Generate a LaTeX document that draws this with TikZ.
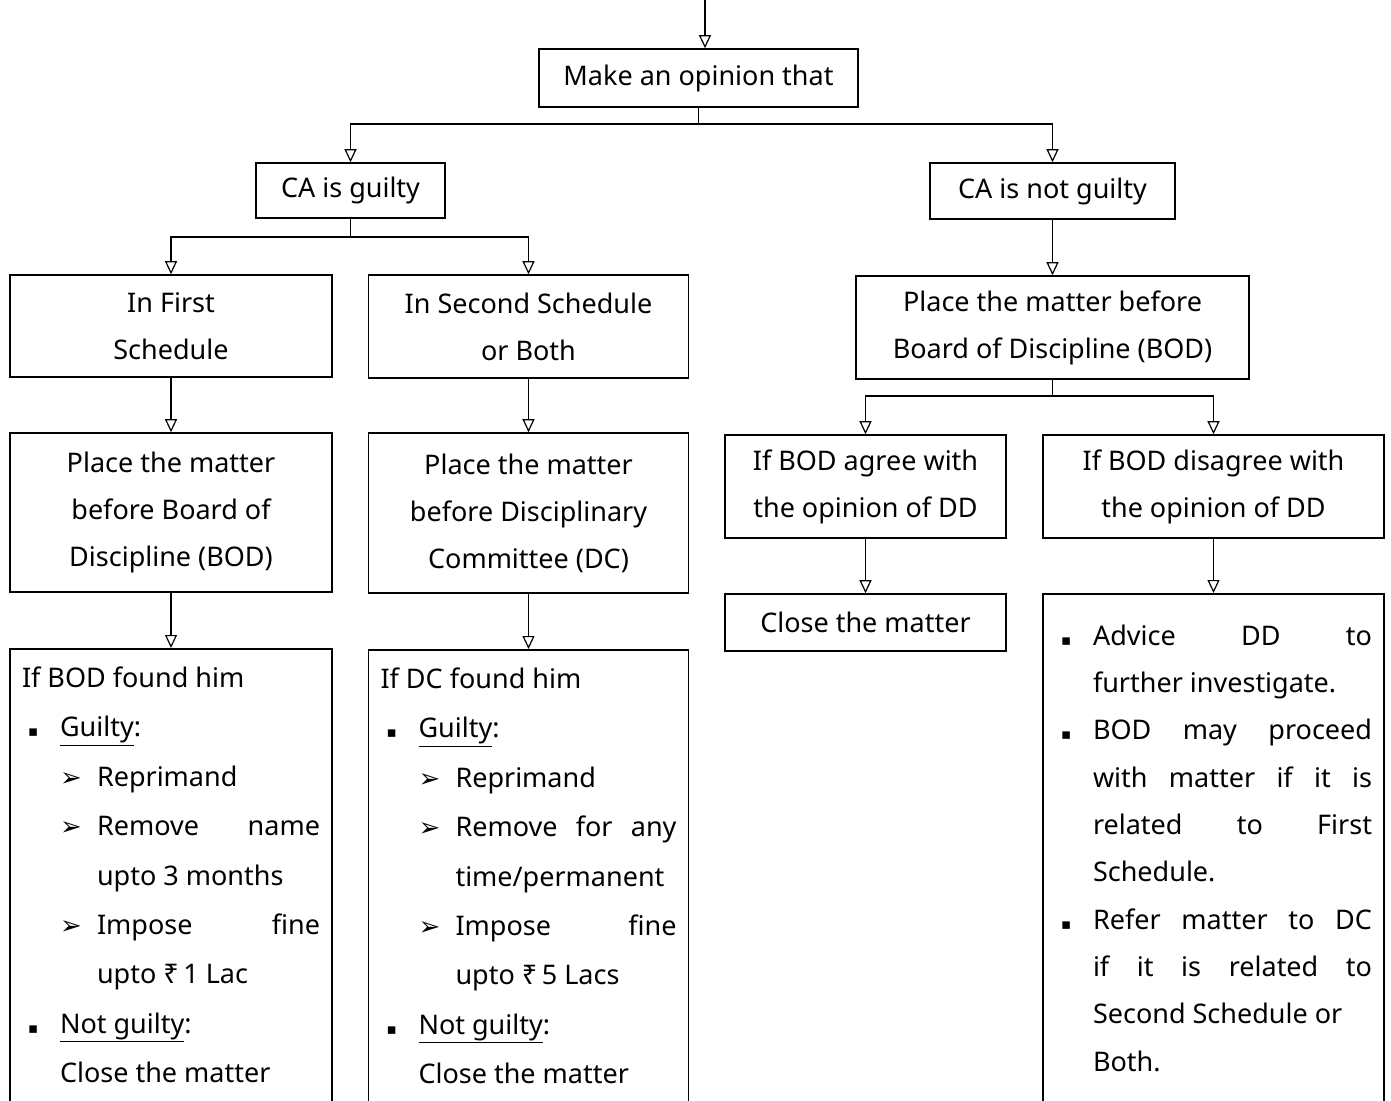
\documentclass[tikz,border=0pt]{standalone}
\usepackage{fontspec}
\setmainfont{Noto Sans}
\newfontfamily\symfont{DejaVu Sans}
\usetikzlibrary{arrows.meta}

% list bullets
\newcommand{\sqbul}{\makebox[38pt][l]{\hspace{6pt}{\symfont\fontsize{15}{15}\selectfont ▪}}}
\newcommand{\arbul}{\hspace*{38pt}\makebox[37pt][l]{{\symfont\fontsize{26}{26}\selectfont ➢}}}
\newcommand{\subind}{\hspace*{75pt}}
\newcommand{\ind}{\hspace*{38pt}}

\begin{document}
\begin{tikzpicture}[x=1pt,y=-1pt]

  % Definitions
  \tikzstyle{box} = [rectangle, draw=black, line width=1.6pt, align=center, inner sep=0pt, font=\fontsize{27}{47}\selectfont]
  \tikzstyle{listbox} = [rectangle, draw=black, line width=1.6pt, anchor=north, inner xsep=12pt, inner ysep=18pt, font=\fontsize{27}{49.4}\selectfont]
  \tikzstyle{arrow} = [line width=1.6pt, -{Triangle[open, width=12pt, length=13pt, line width=1.2pt]}]

  \useasboundingbox (0,0) rectangle (1391,1100);
  \clip (0,0) rectangle (1391,1100);

  \node (opinion) [box, minimum width=319pt, minimum height=58pt] at (698.5,78) {Make an opinion that};
  \node (guilty) [box, minimum width=189pt, minimum height=55pt] at (350.5,190.5) {CA is guilty};
  \node (notguilty) [box, minimum width=245pt, minimum height=56pt] at (1052.5,191) {CA is not guilty};

  \node (first) [box, minimum width=322pt, minimum height=102pt] at (171,326) {In First\\Schedule};
  \node (second) [box, minimum width=320pt, minimum height=103pt] at (528.5,326.5) {In Second Schedule\\or Both};
  \node (bodR) [box, minimum width=393pt, minimum height=103pt] at (1052.5,327.5) {Place the matter before\\Board of Discipline (BOD)};

  \node (bodL) [box, minimum width=322pt, minimum height=159pt] at (171,512.5) {Place the matter\\before Board of\\Discipline (BOD)};
  \node (dc) [box, minimum width=320pt, minimum height=160pt] at (528.5,513) {Place the matter\\before Disciplinary\\Committee (DC)};
  \node (agree) [box, minimum width=281pt, minimum height=103pt] at (865.5,486.5) {If BOD agree with\\the opinion of DD};
  \node (disagree) [box, minimum width=341pt, minimum height=103pt] at (1213.5,486.5) {If BOD disagree with\\the opinion of DD};
  \node (closeR) [box, minimum width=281pt, minimum height=57pt] at (865.5,622.5) {Close the matter};

  \node (outL) [listbox] at (171,648) {\parbox[t][480pt][t]{298pt}{%
    If BOD found him\\
    \sqbul\underline{Guilty}:\\
    \arbul Reprimand\\
    \arbul Remove\hfill name\\
    \subind upto 3 months\\
    \arbul Impose\hfill fine\\
    \subind upto ₹\,1 Lac\\
    \sqbul\underline{Not guilty}:\\
    \ind Close the matter}};
  \node (outM) [listbox] at (528.5,649) {\parbox[t][480pt][t]{296pt}{%
    If DC found him\\
    \sqbul\underline{Guilty}:\\
    \arbul Reprimand\\
    \arbul Remove\hfill for\hfill any\\
    \subind time/permanent\\
    \arbul Impose\hfill fine\\
    \subind upto ₹\,5 Lacs\\
    \sqbul\underline{Not guilty}:\\
    \ind Close the matter}};
  \node (outR) [listbox, inner ysep=31pt, font=\fontsize{27}{47.3}\selectfont] at (1213.5,593) {\parbox[t][480pt][t]{317pt}{%
    \sqbul Advice\hfill DD\hfill to\\
    \ind further investigate.\\
    \sqbul BOD\hfill may\hfill proceed\\
    \ind with\hfill matter\hfill if\hfill it\hfill is\\
    \ind related\hfill to\hfill First\\
    \ind Schedule.\\
    \sqbul Refer\hfill matter\hfill to\hfill DC\\
    \ind if\hfill it\hfill is\hfill related\hfill to\\
    \ind Second Schedule or\\
    \ind Both.}};

  \coordinate (entry) at (705,-5);

  \draw [arrow] (entry) -- (entry |- opinion.north);
  \draw [arrow] (opinion.south) -- ++(0,16) -| (guilty.north);
  \draw [arrow] (opinion.south) -- ++(0,16) -| (notguilty.north);
  \draw [arrow] (guilty.south) -- ++(0,18) -| (first.north);
  \draw [arrow] (guilty.south) -- ++(0,18) -| (second.north);
  \draw [arrow] (notguilty) -- (bodR);
  \draw [arrow] (bodR.south) -- ++(0,16) -| (agree.north);
  \draw [arrow] (bodR.south) -- ++(0,16) -| (disagree.north);
  \draw [arrow] (first) -- (bodL);
  \draw [arrow] (second) -- (dc);
  \draw [arrow] (bodL) -- (outL);
  \draw [arrow] (dc) -- (outM);
  \draw [arrow] (agree) -- (closeR);
  \draw [arrow] (disagree) -- (outR);

\end{tikzpicture}
\end{document}
